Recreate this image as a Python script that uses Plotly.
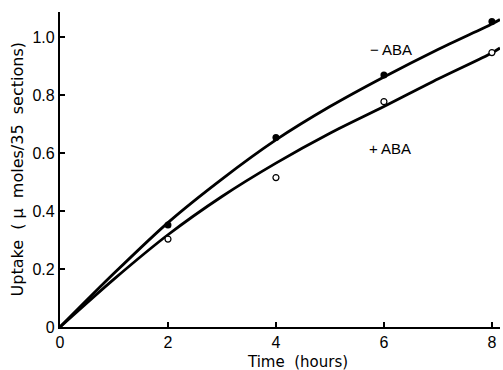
import plotly.graph_objects as go

# Measured data points (time in hours, uptake in µmoles/35 sections)
time_pts = [2, 4, 6, 8]
minus_aba = [0.352, 0.653, 0.869, 1.053]
plus_aba = [0.303, 0.515, 0.777, 0.946]

# Hand-drawn fitted curves
curve_x = [0, 1, 2, 3, 4, 5, 6, 7, 8, 8.15]
curve_minus = [0, 0.185, 0.36, 0.51, 0.645, 0.76, 0.862, 0.957, 1.045, 1.06]
curve_plus = [0, 0.165, 0.318, 0.45, 0.565, 0.668, 0.76, 0.855, 0.945, 0.962]

x_ticks = [0, 2, 4, 6, 8]
y_ticks = [0, 0.2, 0.4, 0.6, 0.8, 1.0]
y_ticklabels = ["0", "0.2", "0.4", "0.6", "0.8", "1.0"]

fig = go.Figure()
fig.add_trace(go.Scatter(x=curve_x, y=curve_minus, mode="lines",
                         line=dict(color="black", width=2.8, shape="spline", smoothing=0.8),
                         showlegend=False, hoverinfo="skip"))
fig.add_trace(go.Scatter(x=curve_x, y=curve_plus, mode="lines",
                         line=dict(color="black", width=2.8, shape="spline", smoothing=0.8),
                         showlegend=False, hoverinfo="skip"))
fig.add_trace(go.Scatter(x=time_pts, y=minus_aba, mode="markers", name="− ABA",
                         marker=dict(color="black", size=7, symbol="circle"),
                         showlegend=False))
fig.add_trace(go.Scatter(x=time_pts, y=plus_aba, mode="markers", name="+ ABA",
                         marker=dict(color="white", size=6, symbol="circle",
                                     line=dict(color="black", width=1.2)),
                         showlegend=False))

fig.update_layout(
    width=503, height=370,
    margin=dict(l=60, r=3, t=12, b=43),
    paper_bgcolor="white", plot_bgcolor="white",
    font=dict(family="Liberation Sans, Arial, sans-serif", color="black", size=16),
    xaxis=dict(range=[0, 8.15], tickvals=x_ticks, ticks="inside", ticklen=5,
               tickwidth=1.5, tickcolor="black", showline=True, linecolor="black",
               linewidth=2.2, showgrid=False, zeroline=False,
               tickfont=dict(size=16)),
    yaxis=dict(range=[0, 1.086], tickvals=y_ticks, ticktext=y_ticklabels,
               ticks="inside", ticklen=5, tickwidth=1.5, tickcolor="black",
               showline=True, linecolor="black", linewidth=2.2,
               showgrid=False, zeroline=False, tickfont=dict(size=16)),
    annotations=[
        dict(text="Time  (hours)", xref="paper", yref="paper", x=0.539, y=-0.11,
             xanchor="center", yanchor="middle", showarrow=False,
             font=dict(family="DejaVu Sans, sans-serif", size=15)),
        dict(text="Uptake  ( μ  moles/35  sections)", xref="paper", yref="paper",
             x=-0.0955, y=0.5, xanchor="center", yanchor="middle", textangle=-90,
             showarrow=False, font=dict(family="DejaVu Sans, sans-serif", size=16)),
        dict(text="− ABA", xref="paper", yref="paper", x=(391 - 60) / 440,
             y=(327 - 49.5) / 315, xanchor="center", yanchor="middle",
             showarrow=False, font=dict(size=15)),
        dict(text="+ ABA", xref="paper", yref="paper", x=(390 - 60) / 440,
             y=(327 - 148.5) / 315, xanchor="center", yanchor="middle",
             showarrow=False, font=dict(size=15)),
    ],
)

fig.write_html("out.html")
